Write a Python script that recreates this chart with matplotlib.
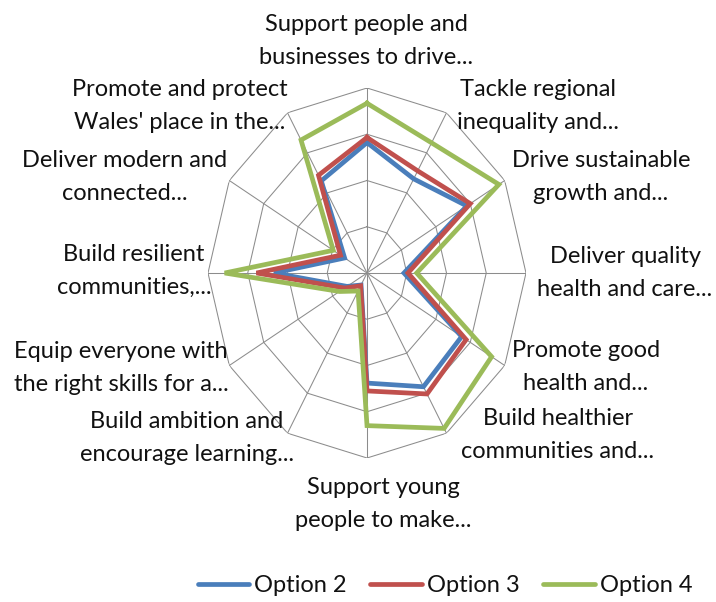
import numpy as np
import matplotlib
matplotlib.use("Agg")
import matplotlib.pyplot as plt
from matplotlib.lines import Line2D

plt.rcParams['font.family'] = ['Lato', 'DejaVu Sans']

# categories, clockwise from the top
categories = [
    "Support people and\nbusinesses to drive...",
    "Tackle regional\ninequality and...",
    "Drive sustainable\ngrowth and...",
    "Deliver quality\nhealth and care...",
    "Promote good\nhealth and...",
    "Build healthier\ncommunities and...",
    "Support young\npeople to make...",
    "Build ambition and\nencourage learning...",
    "Equip everyone with\nthe right skills for a...",
    "Build resilient\ncommunities,...",
    "Deliver modern and\nconnected...",
    "Promote and protect\nWales' place in the...",
]

option2 = [2.82, 2.35, 2.90, 0.93, 2.75, 2.84, 2.38, 0.30, 0.58, 2.34, 0.65, 2.30]
option3 = [2.93, 2.55, 3.00, 1.03, 2.88, 3.02, 2.55, 0.32, 0.65, 2.78, 0.77, 2.44]
option4 = [3.67, 3.25, 3.83, 1.25, 3.62, 3.88, 3.30, 0.45, 0.80, 3.58, 0.98, 3.32]

series_names = ["Option 2", "Option 3", "Option 4"]
series_colors = ["#4A7EBB", "#C0504D", "#9BBB59"]
rings = [1, 2, 3, 4]

# label centres in pixels (layout)
label_pos = [(366, 41), (538, 106), (601, 177), (625, 273), (586, 367), (558, 435),
             (383, 504), (187, 438), (121, 368), (134, 271), (125, 177), (180, 106)]

W, H = 716, 602
fig = plt.figure(figsize=(W / 100, H / 100), dpi=100)
cx, cy, rx, ry = 367, 273, 159, 185
ax = fig.add_axes([(cx - rx) / W, (H - cy - ry) / H, 2 * rx / W, 2 * ry / H], projection='polar')
ax.set_aspect('auto')
ax.set_theta_zero_location('N')
ax.set_theta_direction(-1)
ax.set_ylim(0, rings[-1])
ax.grid(False)
ax.set_xticks([])
ax.set_yticks([])
ax.spines['polar'].set_visible(False)
ax.patch.set_visible(False)

n = len(categories)
theta = np.arange(n) * 2 * np.pi / n
theta_c = np.append(theta, theta[0])

grid_kw = dict(color="#8C8C8C", lw=0.75, zorder=1)
for r in rings:
    ax.plot(theta_c, [r] * (n + 1), **grid_kw)
for t in theta:
    ax.plot([t, t], [0, rings[-1]], **grid_kw)

for vals, col in zip([option2, option3, option4], series_colors):
    v = np.append(vals, vals[0])
    ax.plot(theta_c, v, color=col, lw=3.4, solid_joinstyle='miter', zorder=3)

for lab, (px, py) in zip(categories, label_pos):
    fig.text(px / W, 1 - py / H, lab, ha='center', va='center', fontsize=17,
             color="#111111", linespacing=1.65)

handles = [Line2D([0], [0], color=c, lw=3.4, solid_capstyle='round') for c in series_colors]
fig.legend(handles, series_names, loc='center', bbox_to_anchor=(445 / W, 1 - 586 / H),
           ncol=3, frameon=False, fontsize=17, handlelength=2.2, handletextpad=0.2,
           columnspacing=1.0, labelcolor="#111111")

fig.savefig("out.png", dpi=100, facecolor="white")
